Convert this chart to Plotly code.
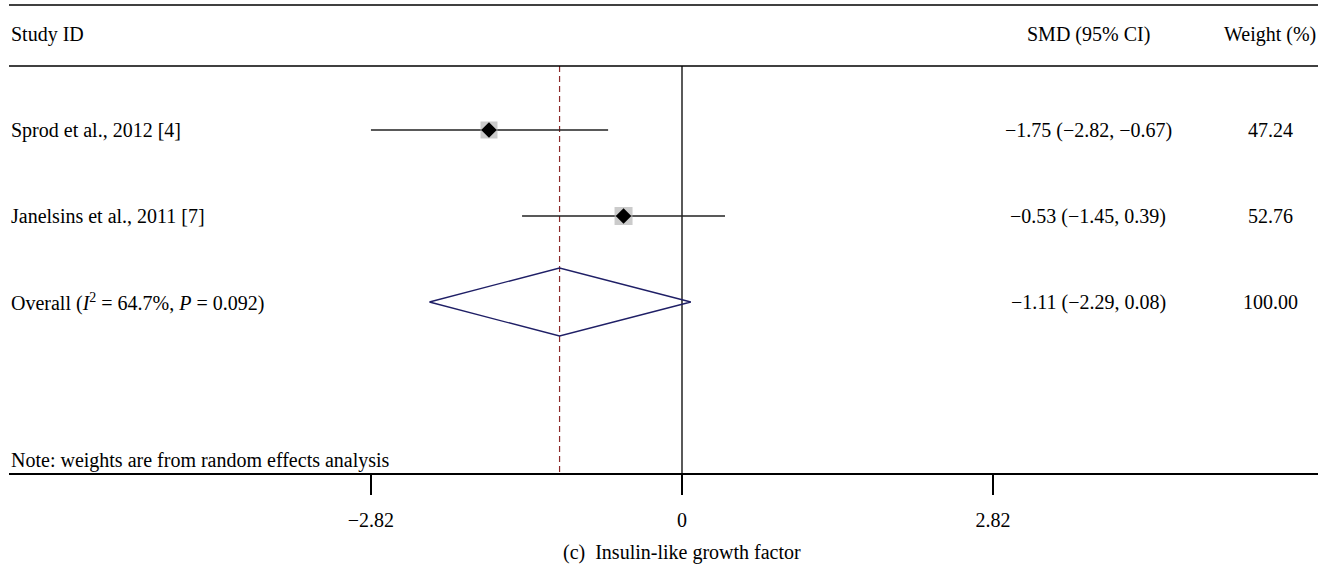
import plotly.graph_objects as go

# ---------------- data ----------------
studies = ["Sprod et al., 2012 [4]", "Janelsins et al., 2011 [7]"]
smd = [-1.75, -0.53]
ci_low = [-2.82, -1.45]
ci_high = [-0.67, 0.39]
weights = ["47.24", "52.76"]
smd_text = ["−1.75 (−2.82, −0.67)", "−0.53 (−1.45, 0.39)"]

overall_label = "Overall (<i>I</i><sup>2</sup> = 64.7%, <i>P</i> = 0.092)"
overall_smd = -1.11
overall_low = -2.29
overall_high = 0.08
overall_text = "−1.11 (−2.29, 0.08)"
overall_weight = "100.00"

tick_vals = [-2.82, 0, 2.82]
tick_text = ["−2.82", "0", "2.82"]

header_study = "Study ID"
header_smd = "SMD (95% CI)"
header_weight = "Weight (%)"
note = "Note: weights are from random effects analysis"
caption = "(c)  Insulin-like growth factor"

# ---------------- layout constants (pixels, page coordinates) ----------------
W, H = 1333, 568
LEFT_PX, RIGHT_PX = 9, 1318   # extent of the rules / axis line
AXIS_PX = 473                 # y of the axis line
ML = LEFT_PX
MR = W - RIGHT_PX
MT = 0
PLOT_H = AXIS_PX
MB = H - PLOT_H
PLOT_W = W - ML - MR
ZERO_PX = 682.0
PX_PER_UNIT = 110.3
x_min = (LEFT_PX - ZERO_PX) / PX_PER_UNIT
x_max = (RIGHT_PX - ZERO_PX) / PX_PER_UNIT

row_y = [130, 216]
overall_y = 302
diamond_half_h = 34
header_y = 34
rule_top = 5
rule_head = 66
note_y = 460
col_smd_px = 1088
col_w_px = 1270
caption_y = 552

FONT = "Liberation Serif"
FS = 20


def paper_x(px):
    return (px - LEFT_PX) / PLOT_W


def paper_y(px):
    return 1 - px / PLOT_H


fig = go.Figure()

# reference lines
fig.add_trace(go.Scatter(x=[0, 0], y=[rule_head, AXIS_PX], mode="lines",
                         line=dict(color="black", width=1.3),
                         hoverinfo="skip", showlegend=False))
fig.add_trace(go.Scatter(x=[overall_smd, overall_smd],
                         y=[rule_head, AXIS_PX], mode="lines",
                         line=dict(color="#8b2a2a", width=1.2, dash="6px,4px"),
                         hoverinfo="skip", showlegend=False))

# CI lines
for lo, hi, y in zip(ci_low, ci_high, row_y):
    fig.add_trace(go.Scatter(x=[lo, hi], y=[y, y], mode="lines",
                             line=dict(color="#222222", width=1.3),
                             hoverinfo="skip", showlegend=False))

# weight boxes
fig.add_trace(go.Scatter(x=smd, y=row_y, mode="markers",
                         marker=dict(symbol="square", size=[17, 18],
                                     color="#b5b5b5", line=dict(width=0)),
                         hoverinfo="skip", showlegend=False))
# point estimates
fig.add_trace(go.Scatter(x=smd, y=row_y, mode="markers",
                         marker=dict(symbol="diamond", size=12, color="black",
                                     line=dict(width=0)),
                         hoverinfo="skip", showlegend=False))

# overall diamond
fig.add_trace(go.Scatter(
    x=[overall_low, overall_smd, overall_high, overall_smd, overall_low],
    y=[overall_y, overall_y - diamond_half_h, overall_y,
       overall_y + diamond_half_h, overall_y],
    mode="lines", line=dict(color="#1f1f66", width=1.3),
    hoverinfo="skip", showlegend=False))

annotations = []


def txt(text, x, y, xanchor, size=FS):
    annotations.append(dict(text=text, x=x, y=y, xref="paper", yref="y",
                            xanchor=xanchor, yanchor="middle", showarrow=False,
                            font=dict(family=FONT, size=size, color="black")))


# header
txt(header_study, 0, header_y, "left")
txt(header_smd, paper_x(col_smd_px), header_y, "center")
txt(header_weight, paper_x(col_w_px), header_y, "center")

# study rows
for name, s, w, y in zip(studies, smd_text, weights, row_y):
    txt(name, 0, y, "left")
    txt(s, paper_x(col_smd_px), y, "center")
    txt(w, paper_x(col_w_px), y, "center")

txt(overall_label, 0, overall_y, "left")
txt(overall_text, paper_x(col_smd_px), overall_y, "center")
txt(overall_weight, paper_x(col_w_px), overall_y, "center")

txt(note, 0, note_y, "left")

# caption below axis
annotations.append(dict(text=caption, x=paper_x(ZERO_PX), y=paper_y(caption_y),
                        xref="paper", yref="paper", xanchor="center",
                        yanchor="middle", showarrow=False,
                        font=dict(family=FONT, size=FS, color="black")))

shapes = [
    dict(type="line", xref="paper", yref="paper", x0=0, x1=1,
         y0=paper_y(rule_top), y1=paper_y(rule_top),
         line=dict(color="black", width=1.5)),
    dict(type="line", xref="paper", yref="paper", x0=0, x1=1,
         y0=paper_y(rule_head), y1=paper_y(rule_head),
         line=dict(color="black", width=1.5)),
]

fig.update_layout(
    width=W, height=H,
    margin=dict(l=ML, r=MR, t=MT, b=MB),
    paper_bgcolor="white", plot_bgcolor="white",
    annotations=annotations, shapes=shapes,
    font=dict(family=FONT, size=FS, color="black"),
    xaxis=dict(range=[x_min, x_max], showgrid=False, zeroline=False,
               showline=True, linecolor="black", linewidth=1.5,
               ticks="outside", ticklen=20, tickwidth=1.5, tickcolor="black",
               tickvals=tick_vals, ticktext=tick_text,
               ticklabelstandoff=8,
               tickfont=dict(family=FONT, size=FS, color="black"),
               fixedrange=True),
    yaxis=dict(range=[PLOT_H, 0], visible=False, showgrid=False,
               zeroline=False, fixedrange=True),
    showlegend=False,
)

fig.write_html(
    "out.html",
    config={"displayModeBar": False},
    post_script="document.body.style.margin='0';document.body.style.padding='0';",
)
